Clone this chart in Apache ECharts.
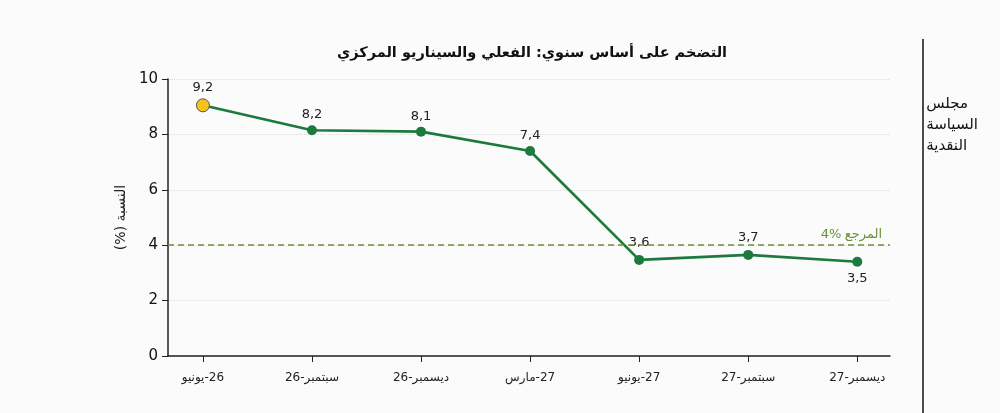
<!DOCTYPE html>
<html>
<head>
<meta charset="utf-8">
<script src="https://cdn.jsdelivr.net/npm/echarts@6/dist/echarts.min.js"></script>
<style>
html,body{margin:0;padding:0;background:#fbfbfb;}
#c{width:1000px;height:413px;}
</style>
</head>
<body>
<div id="c"></div>
<script>
// Category labels: month word, year, and which side the year is drawn on (as in the reference)
const categoryMonths = ["يونيو", "سبتمبر", "ديسمبر", "مارس", "يونيو", "سبتمبر", "ديسمبر"];
const categoryYears  = ["26", "26", "26", "27", "27", "27", "27"];
const yearOnLeft     = [false, true, true, false, false, true, true];
// Plotted values (read from point positions)
const inflationValues = [9.05, 8.15, 8.1, 7.4, 3.47, 3.65, 3.4];
// Printed data labels
const valueLabels = ["9,2", "8,2", "8,1", "7,4", "3,6", "3,7", "3,5"];
const referenceValue = 4;

const FONT = "DejaVu Sans";
const GREEN = "#1d7a3e";
const OLIVE = "#6b8f3a";

function catLabel(i) {
  return yearOnLeft[i]
    ? '{n|' + categoryYears[i] + '-}{w|' + categoryMonths[i] + '}'
    : '{w|' + categoryMonths[i] + '}{n|-' + categoryYears[i] + '}';
}

const chart = echarts.init(document.getElementById('c'), null, {renderer: 'canvas'});

const seriesData = inflationValues.map((v, i) => {
  const d = {
    value: [i, v],
    label: {formatter: valueLabels[i]}
  };
  if (i === 0) {
    d.symbolSize = 13;
    d.itemStyle = {color: '#f6c21b', borderColor: '#555', borderWidth: 1};
  }
  if (i === 4 || i === 5) {
    d.label.distance = 6;
  }
  if (i === 6) {
    d.label.position = 'bottom';
    d.label.distance = 5;
  }
  return d;
});

chart.setOption({
  backgroundColor: '#fbfbfb',
  animation: false,
  title: {
    text: 'التضخم على أساس سنوي: الفعلي والسيناريو المركزي',
    left: 527,
    top: 41,
    textAlign: 'center',
    textStyle: {fontFamily: FONT, fontSize: 14.5, fontWeight: 'bold', color: '#111'}
  },
  grid: {left: 168, right: 110, top: 79, bottom: 57},
  xAxis: {
    type: 'value',
    min: -0.32,
    max: 6.3,
    splitLine: {show: false},
    axisLine: {show: true, onZero: false, lineStyle: {color: '#222', width: 1.5}},
    axisTick: {show: true, length: 6, customValues: categoryMonths.map((c, i) => i), lineStyle: {color: '#222'}},
    axisLabel: {
      customValues: categoryMonths.map((c, i) => i),
      formatter: v => catLabel(Math.round(v)),
      margin: 16,
      rich: {
        n: {fontFamily: FONT, fontSize: 12, color: '#222'},
        w: {fontFamily: FONT, fontSize: 12, color: '#222'}
      }
    }
  },
  yAxis: {
    type: 'value',
    min: 0,
    max: 10,
    interval: 2,
    name: '(%) النسبة',
    nameLocation: 'middle',
    nameRotate: 90,
    nameGap: 26,
    nameTextStyle: {fontFamily: FONT, fontSize: 14, color: '#222'},
    axisLine: {show: true, onZero: false, lineStyle: {color: '#222', width: 1.5}},
    axisTick: {show: true, length: 6, lineStyle: {color: '#222'}},
    axisLabel: {fontFamily: FONT, fontSize: 15, color: '#111', margin: 10},
    splitLine: {show: true, lineStyle: {color: '#dcdcdc', type: 'dotted', width: 1}}
  },
  series: [{
    type: 'line',
    data: seriesData,
    symbol: 'circle',
    symbolSize: 10,
    lineStyle: {color: GREEN, width: 2.6},
    itemStyle: {color: GREEN},
    label: {
      show: true, position: 'top', distance: 4,
      fontFamily: FONT, fontSize: 13, color: '#222'
    },
    markLine: {
      silent: true,
      symbol: 'none',
      data: [{yAxis: referenceValue}],
      lineStyle: {color: OLIVE, type: [6, 4], width: 1.5},
      label: {
        show: true,
        position: 'insideEndTop',
        formatter: '{n|4%} {w|المرجع}',
        rich: {
          n: {fontFamily: FONT, fontSize: 13, color: OLIVE},
          w: {fontFamily: FONT, fontSize: 13, color: OLIVE}
        },
        distance: [8, 4]
      }
    },
    z: 3
  }],
  graphic: [
    {type: 'line', shape: {x1: 923, y1: 39, x2: 923, y2: 413}, style: {stroke: '#111', lineWidth: 1.5}},
    {type: 'text', right: 22, top: 94, style: {
      text: 'مجلس\nالسياسة\nالنقدية', fontFamily: FONT, fontSize: 15, fill: '#111',
      align: 'right', lineHeight: 21
    }}
  ]
});
</script>
</body>
</html>
